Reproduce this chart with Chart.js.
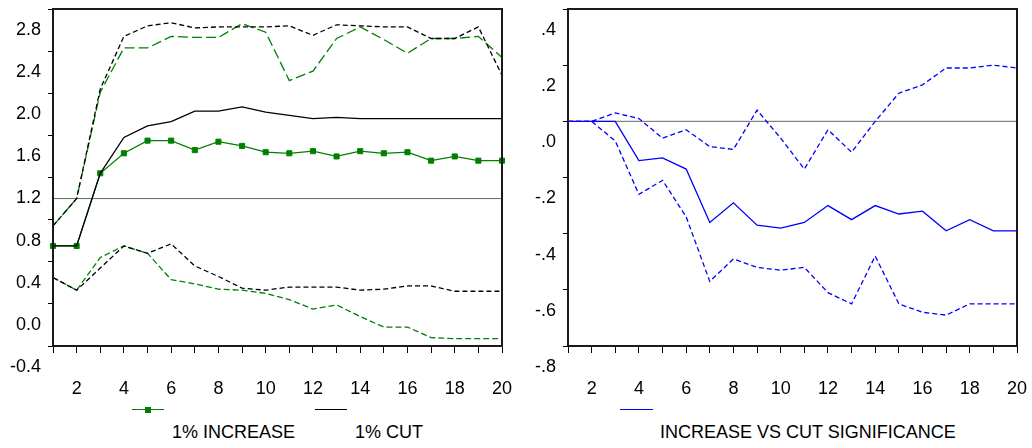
<!DOCTYPE html>
<html>
<head>
<meta charset="utf-8">
<script src="https://cdn.jsdelivr.net/npm/chart.js@4.4.1/dist/chart.umd.min.js"></script>
<style>
body { margin: 0; width: 1032px; height: 448px; background: #fff; position: relative; overflow: hidden; font-family: Arial, "Liberation Sans", sans-serif; }
canvas { position: absolute; top: 0; }
#leftChart { left: 0; }
#rightChart { left: 516px; }
.key { position: absolute; height: 0; border-top: 1.5px solid; }
.lbl { position: absolute; font-size: 18px; line-height: 22px; color: #000; white-space: nowrap; }
.sq { position: absolute; width: 6px; height: 6px; background: #008000; }
</style>
</head>
<body>
<canvas id="leftChart" width="516" height="400"></canvas>
<canvas id="rightChart" width="516" height="400"></canvas>

<div class="key" style="left:132px; top:409px; width:32px; border-color:#008000;"></div>
<div class="sq" style="left:145px; top:407px;"></div>
<div class="key" style="left:315px; top:409px; width:32px; border-color:#000;"></div>
<div class="lbl" style="left:172px; top:421px;">1% INCREASE</div>
<div class="lbl" style="left:355px; top:421px;">1% CUT</div>

<div class="key" style="left:620px; top:409px; width:33px; border-color:#0000ff;"></div>
<div class="lbl" style="left:660px; top:421px;">INCREASE VS CUT SIGNIFICANCE</div>

<script>
const FONT = 'Arial, "Liberation Sans", sans-serif';

// periodes
const periods = [1, 2, 3, 4, 5, 6, 7, 8, 9, 10, 11, 12, 13, 14, 15, 16, 17, 18, 19, 20];

// 1% increase: response and bands
const incMid = [0.55, 0.55, 1.24, 1.43, 1.55, 1.55, 1.46, 1.54, 1.50, 1.44, 1.43, 1.45, 1.40, 1.45, 1.43, 1.44, 1.36, 1.40, 1.36, 1.36];
const incUp  = [0.74, 1.00, 2.01, 2.43, 2.43, 2.54, 2.53, 2.53, 2.66, 2.58, 2.12, 2.21, 2.52, 2.63, 2.51, 2.38, 2.52, 2.52, 2.54, 2.34];
const incLow = [0.25, 0.13, 0.44, 0.55, 0.48, 0.23, 0.19, 0.14, 0.13, 0.10, 0.04, -0.05, -0.01, -0.12, -0.22, -0.22, -0.32, -0.33, -0.33, -0.33];

// 1% cut: response and bands
const cutMid = [0.55, 0.55, 1.24, 1.58, 1.69, 1.73, 1.83, 1.83, 1.87, 1.82, 1.79, 1.76, 1.77, 1.76, 1.76, 1.76, 1.76, 1.76, 1.76, 1.76];
const cutUp  = [0.74, 1.00, 2.04, 2.54, 2.64, 2.67, 2.62, 2.63, 2.63, 2.63, 2.64, 2.55, 2.65, 2.64, 2.63, 2.63, 2.52, 2.52, 2.63, 2.17];
const cutLow = [0.25, 0.13, 0.34, 0.55, 0.48, 0.57, 0.36, 0.26, 0.15, 0.13, 0.16, 0.16, 0.16, 0.13, 0.14, 0.17, 0.17, 0.12, 0.12, 0.12];

// increase vs cut significance
const sigMid = [0, 0, 0, -0.14, -0.13, -0.17, -0.36, -0.29, -0.37, -0.38, -0.36, -0.30, -0.35, -0.30, -0.33, -0.32, -0.39, -0.35, -0.39, -0.39];
const sigUp  = [0, 0, 0.03, 0.01, -0.06, -0.03, -0.09, -0.10, 0.04, -0.06, -0.17, -0.03, -0.11, 0.00, 0.10, 0.13, 0.19, 0.19, 0.20, 0.19];
const sigLow = [0, 0, -0.07, -0.26, -0.21, -0.34, -0.57, -0.49, -0.52, -0.53, -0.52, -0.61, -0.65, -0.48, -0.65, -0.68, -0.69, -0.65, -0.65, -0.65];

// axis settings
const leftTicks = { min: -0.4, max: 2.8, step: 0.4, ref: 1.0 };
const rightTicks = { min: -0.8, max: 0.4, step: 0.2, ref: 0 };

// cadre + ligne de reference
const framePlugin = {
    id: 'frame',
    beforeDatasetsDraw(chart, args, opts) {
        const { ctx, chartArea: a, scales } = chart;
        const y = scales.y.getPixelForValue(opts.ref);
        ctx.save();
        ctx.strokeStyle = '#666';
        ctx.lineWidth = 1;
        ctx.beginPath();
        ctx.moveTo(a.left, y);
        ctx.lineTo(a.right, y);
        ctx.stroke();
        ctx.restore();
    },
    afterDraw(chart) {
        const { ctx, chartArea: a } = chart;
        ctx.save();
        ctx.strokeStyle = '#1a1a1a';
        ctx.lineWidth = 2;
        ctx.strokeRect(a.left, a.top, a.right - a.left, a.bottom - a.top);
        ctx.restore();
    }
};

function line(data, color, dash, extra) {
    return Object.assign({
        data,
        borderColor: color,
        backgroundColor: color,
        borderWidth: 1.3,
        borderDash: dash,
        pointRadius: 0,
        tension: 0,
        fill: false
    }, extra || {});
}

function clean(v) {
    return (Math.round(v * 10) / 10 + 0).toFixed(1);
}

function fmtLeft(v) {
    return clean(v);
}

function fmtRight(v) {
    return clean(v).replace('0.', '.');
}

function makeOptions(t, fmt, yWidth, padRight) {
    return {
        responsive: false,
        animation: false,
        devicePixelRatio: 1,
        layout: { padding: { top: 9, right: padRight, bottom: 0, left: 0 } },
        plugins: {
            legend: { display: false },
            tooltip: { enabled: false },
            frame: { ref: t.ref }
        },
        scales: {
            x: {
                type: 'category',
                offset: false,
                border: { display: false },
                grid: { drawOnChartArea: false, tickLength: 7, color: '#000' },
                ticks: {
                    autoSkip: false,
                    maxRotation: 0,
                    padding: 25,
                    color: '#000',
                    font: { size: 18, family: FONT },
                    callback: (v, i) => (periods[i] % 2 === 0 ? String(periods[i]) : '')
                },
                afterFit: s => {
                    s.height = 54;
                    s.paddingLeft = 0;
                    s.paddingRight = 0;
                }
            },
            y: {
                min: t.min,
                max: t.max,
                border: { display: false },
                grid: { drawOnChartArea: false, tickLength: 5, color: '#000' },
                ticks: {
                    stepSize: t.step,
                    labelOffset: 21,
                    padding: 7,
                    color: '#000',
                    font: { size: 18, family: FONT },
                    callback: v => fmt(v)
                },
                afterFit: s => {
                    s.width = yWidth;
                    s.paddingTop = 0;
                    s.paddingBottom = 0;
                }
            }
        }
    };
}

new Chart(document.getElementById('leftChart'), {
    type: 'line',
    data: {
        labels: periods,
        datasets: [
            line(cutUp, '#000', [5, 3]),
            line(cutLow, '#000', [5, 3]),
            line(incUp, '#008000', [10, 4]),
            line(incLow, '#008000', [6, 3]),
            line(cutMid, '#000', []),
            line(incMid, '#008000', [], { pointStyle: 'rect', pointRadius: 3.6, borderWidth: 1.3, pointBorderWidth: 1 })
        ]
    },
    options: makeOptions(leftTicks, fmtLeft, 53, 14),
    plugins: [framePlugin]
});

new Chart(document.getElementById('rightChart'), {
    type: 'line',
    data: {
        labels: periods,
        datasets: [
            line(sigUp, '#0000ff', [5, 3]),
            line(sigLow, '#0000ff', [5, 3]),
            line(sigMid, '#0000ff', [])
        ]
    },
    options: makeOptions(rightTicks, fmtRight, 52, 15),
    plugins: [framePlugin]
});
</script>
</body>
</html>
